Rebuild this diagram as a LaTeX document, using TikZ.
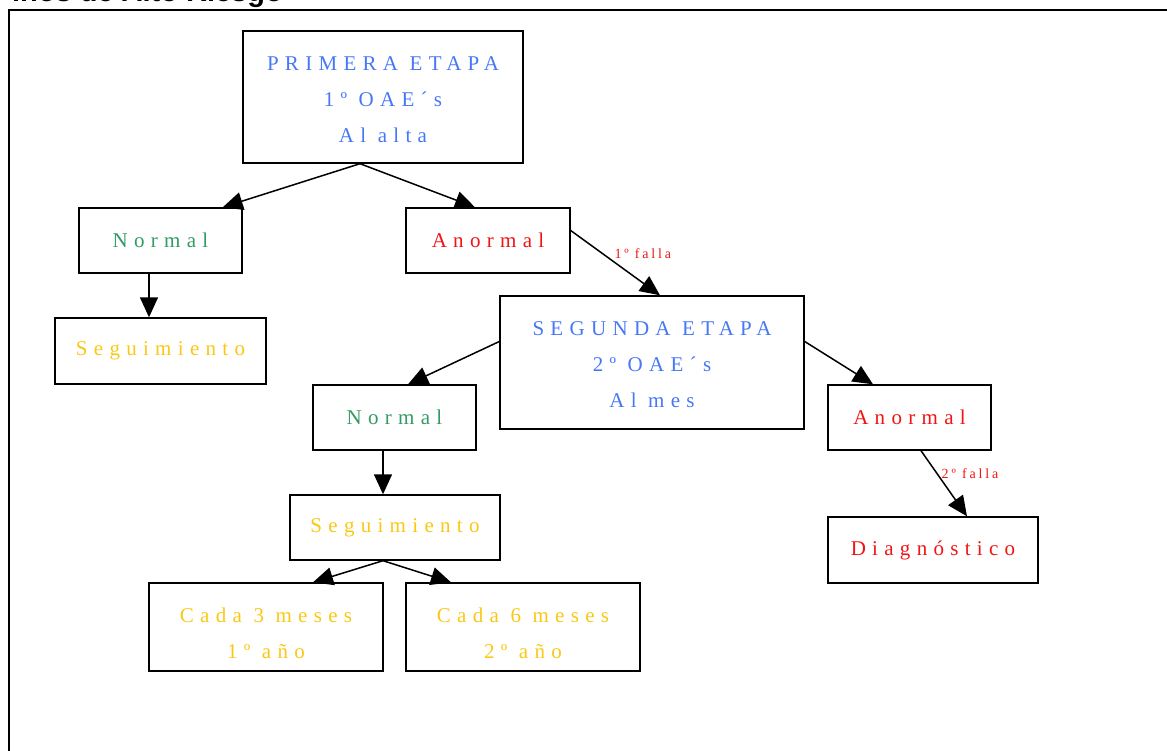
\documentclass[tikz,border=0pt]{standalone}
\usepackage{fontspec}
\setmainfont{Liberation Serif}
\newfontfamily\boxfont{Liberation Serif}[LetterSpace=30]
\newfontfamily\labfont{Liberation Serif}[LetterSpace=20]
\newfontfamily\titlefont{Liberation Sans}
\usetikzlibrary{arrows.meta}
\definecolor{cblue}{RGB}{70,120,245}
\definecolor{cgreen}{RGB}{50,155,100}
\definecolor{cred}{RGB}{240,20,20}
\definecolor{cyellow}{RGB}{250,200,20}
\tikzset{
  box/.style={draw=black, line width=1.4pt, rectangle, inner sep=0pt, align=center,
    font=\boxfont\fontsize{21}{36}\selectfont},
  conn/.style={line width=1.5pt, -{Triangle[length=20pt,width=18pt]}},
  lab/.style={font=\labfont\fontsize{14}{14}\selectfont, text=cred, inner sep=0pt}
}
\newcommand{\lowerA}{\rule{0pt}{19pt}}
\newcommand{\lowerB}{\rule{0pt}{27pt}}
\begin{document}
\begin{tikzpicture}[x=1pt,y=-1pt]
\useasboundingbox (0,0) rectangle (1167,751);
\clip (0,0) rectangle (1167,751);
\draw[line width=1.4pt] (9,10) rectangle (1190,780);
\node[anchor=base east, inner sep=0pt, font=\titlefont\bfseries\fontsize{29}{29}\selectfont] (title) at (283,2) {inos de Alto Riesgo};

\node[box, minimum width=280pt, minimum height=132pt, text=cblue] (p1) at (383,97) {\lowerA PRIMERA ETAPA\\1º OAE´s\\Al alta};
\node[box, minimum width=163pt, minimum height=65pt, text=cgreen] (n1) at (160.5,240.5) {Normal};
\node[box, minimum width=164pt, minimum height=65pt, text=cred] (a1) at (488,240.5) {Anormal};
\node[box, minimum width=211pt, minimum height=66pt, text=cyellow] (s1) at (160.5,351) {Seguimiento};
\node[box, minimum width=304pt, minimum height=133pt, text=cblue] (p2) at (652,362.5) {\lowerA SEGUNDA ETAPA\\2º OAE´s\\Al mes};
\node[box, minimum width=163pt, minimum height=65pt, text=cgreen] (n2) at (394.5,417.5) {Normal};
\node[box, minimum width=163pt, minimum height=65pt, text=cred] (a2) at (909.5,417.5) {Anormal};
\node[box, minimum width=210pt, minimum height=65pt, text=cyellow] (s2) at (395,527.5) {Seguimiento};
\node[box, minimum width=210pt, minimum height=66pt, text=cred] (d) at (933,550) {Diagnóstico};
\node[box, minimum width=234pt, minimum height=88pt, text=cyellow] (c3) at (266,627) {\lowerB Cada 3 meses\\1º año};
\node[box, minimum width=234pt, minimum height=88pt, text=cyellow] (c6) at (523,627) {\lowerB Cada 6 meses\\2º año};

\draw[conn] ([xshift=-23pt]p1.south) -- ([xshift=-20pt]n1.north east);
\draw[conn] ([xshift=-23pt]p1.south) -- ([xshift=-13pt]a1.north);
\draw[conn] ([xshift=-11.5pt]n1.south) -- ([xshift=-11.5pt]s1.north);
\draw[conn] ([yshift=10pt]a1.east) -- node[lab, pos=0.55, xshift=23pt, yshift=12pt] (l1) {1º falla} ([xshift=8pt]p2.north);
\draw[conn] ([yshift=21pt]p2.west) -- ([xshift=13.5pt]n2.north);
\draw[conn] ([yshift=21pt]p2.east) -- ([xshift=-36.5pt]a2.north);
\draw[conn] ([xshift=-11.5pt]n2.south) -- ([xshift=-12pt]s2.north);
\draw[conn] ([xshift=11.5pt]a2.south) -- node[lab, pos=0.38, xshift=31.5pt, yshift=1.5pt] (l2) {2º falla} ([xshift=34pt]d.north);
\draw[conn] ([xshift=-12pt]s2.south) -- ([xshift=47pt]c3.north);
\draw[conn] ([xshift=-12pt]s2.south) -- ([xshift=-72pt]c6.north);
\end{tikzpicture}
\end{document}
